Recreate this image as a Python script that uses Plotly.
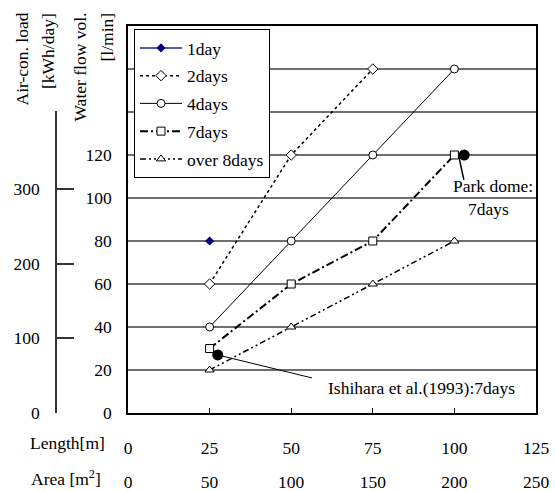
import plotly.graph_objects as go

# ---- data -------------------------------------------------------------
length_m = [25, 50, 75, 100]

flow_1day = [80]
flow_2days = [60, 120, 160]
flow_4days = [40, 80, 120, 160]
flow_7days = [30, 60, 80, 120]
flow_over8 = [20, 40, 60, 80]

# reference cases (length [m], water flow [l/min])
ishihara_pt = (27.5, 27)
park_dome_pt = (103, 120)

length_ticks = [0, 25, 50, 75, 100, 125]
area_ticks = [0, 50, 100, 150, 200, 250]
flow_ticks = [0, 20, 40, 60, 80, 100, 120]
flow_grid_extra = [140, 160]
load_ticks = [0, 100, 200, 300]

# ---- layout geometry (pixels) ---------------------------------------
W, H = 555, 491
ML, MR, MT, MB = 20, 19, 26, 78
PW = W - ML - MR
PH = H - MT - MB
PLOT_LEFT = 128


def px_x(p):
    return (p - ML) / PW


def px_y(p):
    return (H - MB - p) / PH


FONT = "Liberation Serif"
fs = 17.5

fig = go.Figure()

open_marker = dict(color="white", size=8, line=dict(color="black", width=1))

fig.add_trace(go.Scatter(
    x=length_m[:1], y=flow_1day, name="1day", mode="lines+markers",
    legendgroup="a",
    line=dict(color="#23238c", width=1.5),
    marker=dict(symbol="diamond", size=7, color="#000080"),
))
fig.add_trace(go.Scatter(
    x=length_m[:3], y=flow_2days, name="2days", mode="lines+markers",
    legendgroup="b",
    line=dict(color="black", width=1.5, dash="dot"),
    marker=dict(symbol="diamond", **open_marker),
))
fig.add_trace(go.Scatter(
    x=length_m, y=flow_4days, name="4days", mode="lines+markers",
    legendgroup="c",
    line=dict(color="black", width=1),
    marker=dict(symbol="circle", **open_marker),
))
fig.add_trace(go.Scatter(
    x=length_m, y=flow_7days, name="7days", mode="lines+markers",
    legendgroup="d",
    line=dict(color="black", width=2, dash="8px,3px,2px,3px"),
    marker=dict(symbol="square", **open_marker),
))
fig.add_trace(go.Scatter(
    x=length_m, y=flow_over8, name="over 8days", mode="lines+markers",
    legendgroup="e",
    line=dict(color="black", width=1.5, dash="6px,3px,2px,3px,2px,3px"),
    marker=dict(symbol="triangle-up", **open_marker),
))

# leader lines to the reference cases
ish_label = (60.7, 11.6)
ish_line_end = (56.4, 16.3)
park_line = ((101.4, 119), (102.9, 108.4))

fig.add_trace(go.Scatter(
    x=[ishihara_pt[0], ish_line_end[0]], y=[ishihara_pt[1], ish_line_end[1]],
    mode="lines", line=dict(color="black", width=1), showlegend=False,
    hoverinfo="skip",
))
fig.add_trace(go.Scatter(
    x=[park_line[0][0], park_line[1][0]], y=[park_line[0][1], park_line[1][1]],
    mode="lines", line=dict(color="black", width=1.5), showlegend=False,
    hoverinfo="skip",
))
fig.add_trace(go.Scatter(
    x=[ishihara_pt[0], park_dome_pt[0]], y=[ishihara_pt[1], park_dome_pt[1]],
    mode="markers", marker=dict(symbol="circle", size=11, color="black"),
    showlegend=False, hoverinfo="skip",
))

# carriers for the area axis and the air-con load axis
fig.add_trace(go.Scatter(
    x=area_ticks, y=[None] * len(area_ticks), xaxis="x2", yaxis="y",
    mode="markers", marker=dict(opacity=0), showlegend=False, hoverinfo="skip",
))
fig.add_trace(go.Scatter(
    x=[None] * len(load_ticks), y=load_ticks, xaxis="x3", yaxis="y3",
    mode="markers", marker=dict(opacity=0), showlegend=False, hoverinfo="skip",
))

x_dom0 = px_x(PLOT_LEFT)

fig.update_layout(
    width=W, height=H,
    margin=dict(l=ML, r=MR, t=MT, b=MB, autoexpand=False),
    paper_bgcolor="white", plot_bgcolor="rgba(0,0,0,0)",
    font=dict(family=FONT, size=fs, color="black"),
    showlegend=True,
    legend=dict(
        x=px_x(134), y=px_y(29), xanchor="left", yanchor="top",
        bgcolor="white", bordercolor="black", borderwidth=1,
        font=dict(family=FONT, size=fs), tracegroupgap=2,
        traceorder="grouped", itemwidth=42,
    ),
    xaxis=dict(
        domain=[x_dom0, 1], range=[0, 125], tickvals=length_ticks,
        ticktext=[str(v) for v in length_ticks],
        showline=True, linecolor="black", linewidth=1.5, mirror=True,
        ticks="inside", ticklen=5, tickcolor="black", tickwidth=1,
        showgrid=False, zeroline=False, ticklabelstandoff=18,
        anchor="y", automargin=False,
    ),
    xaxis2=dict(
        overlaying="x", range=[0, 250], tickvals=area_ticks,
        side="bottom", anchor="y", showline=False, ticks="",
        showgrid=False, zeroline=False, ticklabelstandoff=56,
        automargin=False,
    ),
    xaxis3=dict(
        domain=[0, x_dom0 * 0.5], range=[0, 1], visible=False,
        anchor="y3", automargin=False,
    ),
    yaxis=dict(
        domain=[0, 1], range=[0, 180], tickvals=flow_ticks,
        showline=True, linecolor="black",
        linewidth=1.5, mirror=True, ticks="", showgrid=True,
        gridcolor="#6e6e6e", gridwidth=1.5, zeroline=False,
        ticklabelstandoff=11, automargin=False,
        minor=dict(tickvals=flow_grid_extra, showgrid=True,
                   gridcolor="#6e6e6e", gridwidth=1.5, ticks=""),
    ),
    yaxis3=dict(
        domain=[0, px_y(111)], range=[0, 404], tickvals=load_ticks,
        anchor="free", position=px_x(56), side="left",
        showline=True, linecolor="#333333", linewidth=1.5,
        ticks="inside", ticklen=17, tickcolor="#333333", tickwidth=1.5,
        showgrid=False, zeroline=False, ticklabelstandoff=12,
        automargin=False,
    ),
)

annotations = [
    dict(text="Air-con. load", x=px_x(22), y=px_y(11)),
    dict(text="[kWh/day]", x=px_x(48), y=px_y(11)),
    dict(text="Water flow vol.", x=px_x(80), y=px_y(11)),
    dict(text="[l/min]", x=px_x(107), y=px_y(11)),
]
for a in annotations:
    fig.add_annotation(
        text=a["text"], x=a["x"], y=a["y"], xref="paper", yref="paper",
        textangle=-90, xanchor="center", yanchor="top", showarrow=False,
        font=dict(family=FONT, size=fs),
    )

fig.add_annotation(text="Length[m]", x=px_x(67), y=px_y(443), xref="paper",
                   yref="paper", showarrow=False, xanchor="center",
                   yanchor="middle", font=dict(family=FONT, size=fs))
fig.add_annotation(text="Area [m<sup>2</sup>]", x=px_x(66), y=px_y(478),
                   xref="paper", yref="paper", showarrow=False,
                   xanchor="center", yanchor="middle",
                   font=dict(family=FONT, size=fs))

fig.add_annotation(text="Ishihara et al.(1993):7days", x=ish_label[0],
                   y=ish_label[1], xref="x", yref="y", showarrow=False,
                   xanchor="left", yanchor="middle",
                   font=dict(family=FONT, size=fs))
fig.add_annotation(text="Park dome:", x=111.8, y=105.6, xref="x", yref="y",
                   showarrow=False, xanchor="center", yanchor="middle",
                   font=dict(family=FONT, size=fs))
fig.add_annotation(text="7days", x=110.5, y=94.9, xref="x", yref="y",
                   showarrow=False, xanchor="center", yanchor="middle",
                   font=dict(family=FONT, size=fs))

fig.write_html("out.html")
